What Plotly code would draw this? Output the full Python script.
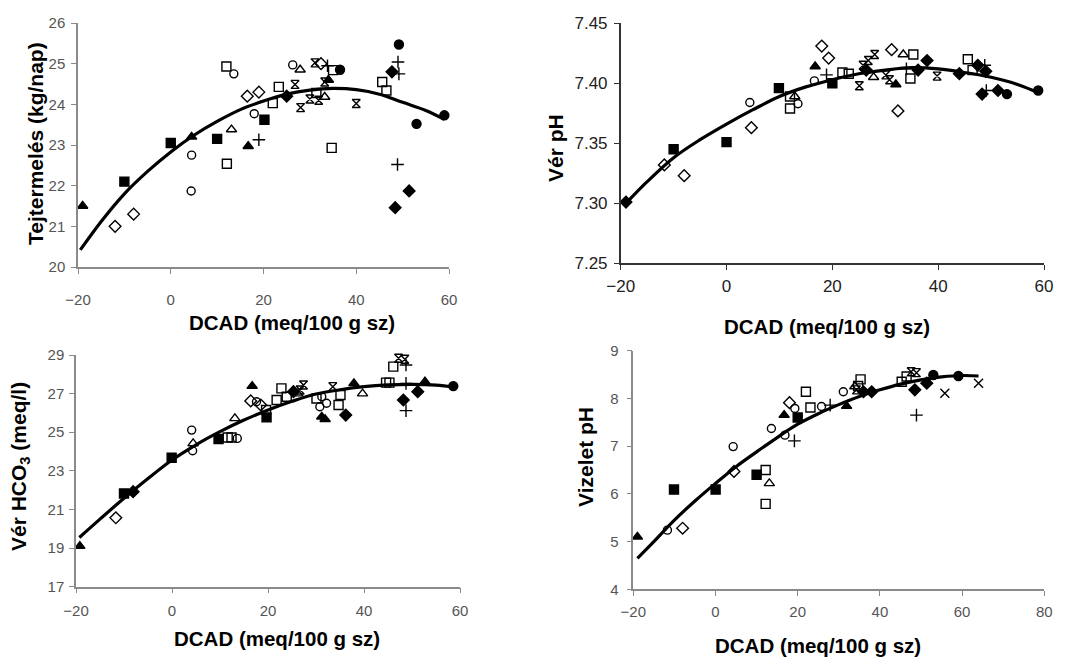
import plotly.graph_objects as go

# ---------------- data ----------------
# study codes: A filled square, B open square, C filled triangle, D open triangle,
# E open diamond, F open circle, G filled diamond, H filled circle, I bowtie, J plus, K x
p1_dcad = [-19, -12, -10, -8, 0, 4.5, 4.5, 4.4, 10, 12, 13.6, 12.1, 13.1, 16.7, 16.5, 19, 18, 19, 20.2,
           22, 23.3, 25, 26.3, 27.9, 26.8, 28, 30, 31.1, 32.4, 33.8, 35, 36.5, 31.4, 31.9, 33.2, 34,
           33.2, 34.7, 40, 45.6, 46.5, 47.7, 49, 49.2, 49.2, 48.9, 48.4, 51.4, 53, 59]
p1_milk = [21.5, 21.0, 22.1, 21.3, 23.05, 23.2, 22.75, 21.87, 23.15, 24.93, 24.75, 22.54, 23.38, 22.97,
           24.2, 24.3, 23.77, 23.13, 23.62, 24.03, 24.43, 24.2, 24.97, 24.85, 24.49, 23.92, 24.13, 25.02,
           25.0, 24.95, 24.84, 24.85, 24.28, 24.1, 24.55, 24.6, 24.18, 22.93, 24.02, 24.55, 24.34, 24.8,
           25.04, 24.75, 25.47, 22.52, 21.46, 21.87, 23.52, 23.73]
p1_study = ["C", "E", "A", "E", "A", "C", "F", "F", "A", "B", "F", "B", "D", "C", "E", "E", "F", "J", "A",
            "B", "B", "G", "F", "D", "I", "I", "I", "I", "E", "J", "B", "H", "B", "I", "I", "C",
            "D", "B", "I", "B", "B", "G", "J", "J", "H", "J", "G", "G", "H", "H"]
p1_fit_x = [-19.5, -15, -10, -5, 0, 5, 10, 15, 20, 25, 30, 35, 40, 45, 50, 55, 59]
p1_fit_y = [20.42, 21.12, 21.8, 22.35, 22.83, 23.24, 23.58, 23.87, 24.08, 24.25, 24.35, 24.39, 24.36,
            24.25, 24.05, 23.85, 23.63]

p2_dcad = [-19, -11.75, -10, -8, 0, 4.4, 4.7, 9.9, 12, 12, 13.5, 12.9, 16.75, 18, 19.3, 16.6, 18.9, 20,
           21.9, 23.1, 25.1, 25.8, 26.8, 28, 26.4, 27.8, 31.2, 30.1, 30.8, 32, 32.4, 33.4, 35.3, 34.75,
           34, 36.2, 37.9, 39.8, 44, 45.6, 46.5, 47.5, 48.8, 49, 48.3, 49.1, 51.3, 53, 58.9]
p2_ph = [7.301, 7.332, 7.345, 7.323, 7.351, 7.384, 7.363, 7.396, 7.389, 7.379, 7.383, 7.389, 7.414,
         7.431, 7.421, 7.402, 7.407, 7.400, 7.409, 7.408, 7.398, 7.415, 7.419, 7.424, 7.411, 7.405,
         7.428, 7.407, 7.403, 7.399, 7.377, 7.424, 7.424, 7.404, 7.412, 7.411, 7.419, 7.406, 7.408,
         7.420, 7.411, 7.415, 7.415, 7.410, 7.391, 7.394, 7.394, 7.391, 7.394]
p2_study = ["G", "E", "A", "E", "A", "F", "E", "A", "B", "B", "F", "D", "C", "E", "E", "F", "J", "A",
            "B", "B", "I", "I", "I", "I", "G", "D", "E", "I", "I", "C", "E", "D", "B", "B",
            "J", "G", "G", "I", "G", "B", "B", "G", "J", "G", "G", "J", "G", "H", "H"]
p2_fit_x = [-19, -15, -10, -5, 0, 5, 10, 15, 20, 25, 30, 35, 40, 45, 50, 55, 59]
p2_fit_y = [7.300, 7.318, 7.338, 7.353, 7.366, 7.378, 7.389, 7.397, 7.403, 7.408, 7.411, 7.413, 7.412,
            7.409, 7.405, 7.399, 7.392]

p3_dcad = [-19.2, -11.7, -10, -8.1, -0.07, 4.1, 4.4, 4.3, 9.7, 11.6, 12.4, 13.6, 13.1, 16.7, 16.4, 17.6,
           18.5, 19.6, 19.7, 21.8, 22.8, 23.9, 25.3, 26.7, 27.4, 26.2, 30.1, 31.2, 30.8, 31.2, 31.9,
           32.2, 33.5, 34.7, 35.1, 36.2, 37.9, 39.7, 44.6, 45.3, 46.1, 47.2, 48.5, 48.75, 48.75, 48.2,
           48.75, 51.2, 52.7, 58.6]
p3_hco3 = [19.1, 20.57, 21.83, 21.92, 23.68, 25.11, 24.42, 24.04, 24.65, 24.73, 24.73, 24.68, 25.72,
           27.39, 26.62, 26.58, 26.41, 26.15, 25.77, 26.67, 27.27, 26.84, 27.1, 27.19, 27.45, 27.0,
           26.75, 26.84, 26.32, 25.8, 25.67, 26.5, 27.36, 26.41, 26.93, 25.89, 27.53, 27.0, 27.57,
           27.57, 28.4, 28.83, 28.78, 28.48, 27.53, 26.67, 26.12, 27.1, 27.62, 27.39]
p3_study = ["C", "E", "A", "G", "A", "F", "D", "F", "A", "B", "B", "F", "D", "C", "E", "F",
            "E", "B", "A", "B", "B", "B", "G", "I", "I", "D", "B", "F", "F", "C", "C",
            "F", "I", "B", "B", "G", "C", "D", "B", "B", "B", "I", "I", "J", "J", "G",
            "J", "G", "C", "H"]
p3_fit_x = [-19.3, -15, -10, -5, 0, 5, 10, 15, 20, 25, 30, 35, 40, 45, 50, 55, 59]
p3_fit_y = [19.55, 20.5, 21.58, 22.6, 23.56, 24.35, 25.03, 25.63, 26.15, 26.6, 26.98, 27.2, 27.36,
            27.45, 27.48, 27.44, 27.33]

p4_dcad = [-19, -11.7, -8, -10.1, 0.03, 4.3, 4.5, 10, 12.2, 13.1, 12.2, 13.6, 16.7, 16.9, 19.2, 18,
           19.3, 20, 22, 23.1, 25.8, 27.9, 31.1, 31.9, 34.7, 35.3, 34.3, 33.9, 36, 38, 45.3, 46.5,
           47.6, 48.9, 48.5, 51.4, 48.9, 53, 55.8, 59.1, 64]
p4_ph = [5.1, 5.24, 5.28, 6.09, 6.09, 6.99, 6.47, 6.4, 6.5, 6.22, 5.79, 7.37, 7.65, 7.23, 7.11, 7.91,
         7.79, 7.6, 8.14, 7.81, 7.83, 7.86, 8.14, 7.84, 8.26, 8.4, 8.18, 8.25, 8.14, 8.14, 8.35, 8.46,
         8.56, 8.54, 8.18, 8.32, 7.65, 8.49, 8.11, 8.47, 8.32]
p4_study = ["C", "F", "E", "A", "A", "F", "E", "A", "B", "D", "B", "F", "C", "F", "J", "E",
            "F", "A", "B", "B", "F", "J", "F", "C", "B", "B", "I", "D", "G", "G", "B", "B",
            "I", "I", "G", "G", "J", "H", "K", "H", "K"]
p4_fit_x = [-19, -15, -10, -5, 0, 5, 10, 15, 20, 25, 30, 35, 40, 45, 50, 55, 60, 64]
p4_fit_y = [4.65, 5.0, 5.45, 5.85, 6.22, 6.57, 6.88, 7.18, 7.46, 7.68, 7.87, 8.04, 8.18, 8.3, 8.39,
            8.45, 8.48, 8.47]

x_ticks_60 = [-20, 0, 20, 40, 60]
x_ticks_80 = [-20, 0, 20, 40, 60, 80]
y1_ticks = [20, 21, 22, 23, 24, 25, 26]
y2_ticks = [7.25, 7.30, 7.35, 7.40, 7.45]
y3_ticks = [17, 19, 21, 23, 25, 27, 29]
y4_ticks = [4, 5, 6, 7, 8, 9]

x_title = "DCAD (meq/100 g sz)"
y_titles = ["Tejtermelés (kg/nap)", "Vér pH", "Vér HCO<sub>3</sub> (meq/l)", "Vizelet pH"]

# ---------------- styles ----------------
STYLE = {
    "A": ("square", 9), "B": ("square-open", 9), "C": ("triangle-up", 9), "D": ("triangle-up-open", 9),
    "E": ("diamond-open", 9), "F": ("circle-open", 8), "G": ("diamond", 9), "H": ("circle", 9),
    "I": ("hourglass-open", 8), "J": ("cross-thin-open", 9), "K": ("x-thin-open", 9),
}

W, H = 1065, 657
fig = go.Figure()

panels = [
    (p1_dcad, p1_milk, p1_study, p1_fit_x, p1_fit_y, "x", "y"),
    (p2_dcad, p2_ph, p2_study, p2_fit_x, p2_fit_y, "x2", "y2"),
    (p3_dcad, p3_hco3, p3_study, p3_fit_x, p3_fit_y, "x3", "y3"),
    (p4_dcad, p4_ph, p4_study, p4_fit_x, p4_fit_y, "x4", "y4"),
]

for xs, ys, st, fx, fy, xa, ya in panels:
    for code, (sym, size) in STYLE.items():
        px = [x for x, s in zip(xs, st) if s == code]
        py = [y for y, s in zip(ys, st) if s == code]
        if not px:
            continue
        fig.add_trace(go.Scatter(
            x=px, y=py, mode="markers", xaxis=xa, yaxis=ya, cliponaxis=False, showlegend=False,
            marker=dict(symbol=sym, size=size, color="black", line=dict(color="black", width=1.4)),
        ))
    fig.add_trace(go.Scatter(
        x=fx, y=fy, mode="lines", xaxis=xa, yaxis=ya, cliponaxis=False, showlegend=False,
        line=dict(color="black", width=3.2, shape="spline"),
    ))


def px2fx(p):
    return p / W


def px2fy(p):
    return 1 - p / H


left_font = dict(family="Liberation Sans, Arial", size=15, color="#555555")
right_font = dict(family="Liberation Sans, Arial", size=17, color="#222222")


def axis(domain, rng, ticks, font, lc, anchor, fmt=None, standoff=4):
    d = dict(domain=domain, range=rng, tickvals=ticks, showline=True, linecolor=lc, linewidth=1.5,
             ticks="outside", ticklen=5, tickcolor=lc, tickwidth=1.3, showgrid=False, zeroline=False,
             tickfont=font, anchor=anchor, ticklabelstandoff=standoff, fixedrange=True,
             automargin=False)
    if fmt:
        d["tickformat"] = fmt
    return d


fig.update_layout(
    template="none",
    width=W, height=H, margin=dict(l=0, r=0, t=0, b=0, autoexpand=False),
    paper_bgcolor="white", plot_bgcolor="rgba(0,0,0,0)",
    xaxis=axis([px2fx(78), px2fx(449)], [-20, 60], x_ticks_60, left_font, "#8a8a8a", "y", standoff=13),
    yaxis=axis([px2fy(267), px2fy(23)], [20, 26], y1_ticks, left_font, "#8a8a8a", "x", standoff=3),
    xaxis2=axis([px2fx(620.7), px2fx(1044)], [-20, 60], x_ticks_60, right_font, "#333333", "y2", standoff=2),
    yaxis2=axis([px2fy(263.3), px2fy(23.3)], [7.25, 7.45], y2_ticks, right_font, "#333333", "x2", ".2f", standoff=3),
    xaxis3=axis([px2fx(76), px2fx(460)], [-20, 60], x_ticks_60, left_font, "#8a8a8a", "y3", standoff=5),
    yaxis3=axis([px2fy(586.7), px2fy(355)], [17, 29], y3_ticks, left_font, "#8a8a8a", "x3", standoff=2),
    xaxis4=axis([px2fx(633.3), px2fx(1044.3)], [-20, 80], x_ticks_80, left_font, "#8a8a8a", "y4", standoff=3),
    yaxis4=axis([px2fy(589.3), px2fy(350.7)], [4, 9], y4_ticks, left_font, "#8a8a8a", "x4", standoff=5),
)

xtitle_font = dict(family="Liberation Sans, Arial", size=20.5, color="black")
ytitle_font = dict(family="Liberation Sans, Arial", size=21, color="black")
xt_pos = [(291.7, 322), (826.7, 326), (276.7, 638), (817.5, 645)]
yt_pos = [(35, 144), (555, 148), (20, 467), (585, 457)]
for (tx, ty) in xt_pos:
    fig.add_annotation(text="<b>" + x_title + "</b>", x=px2fx(tx), y=px2fy(ty), xref="paper", yref="paper",
                       showarrow=False, font=xtitle_font, xanchor="center", yanchor="middle")
for (tx, ty), t in zip(yt_pos, y_titles):
    fig.add_annotation(text="<b>" + t + "</b>", x=px2fx(tx), y=px2fy(ty), xref="paper", yref="paper",
                       showarrow=False, font=ytitle_font, xanchor="center", yanchor="middle", textangle=-90)

fig.write_html("out.html", config={"displayModeBar": False},
               post_script="document.body.style.margin='0';document.body.style.overflow='hidden';")
